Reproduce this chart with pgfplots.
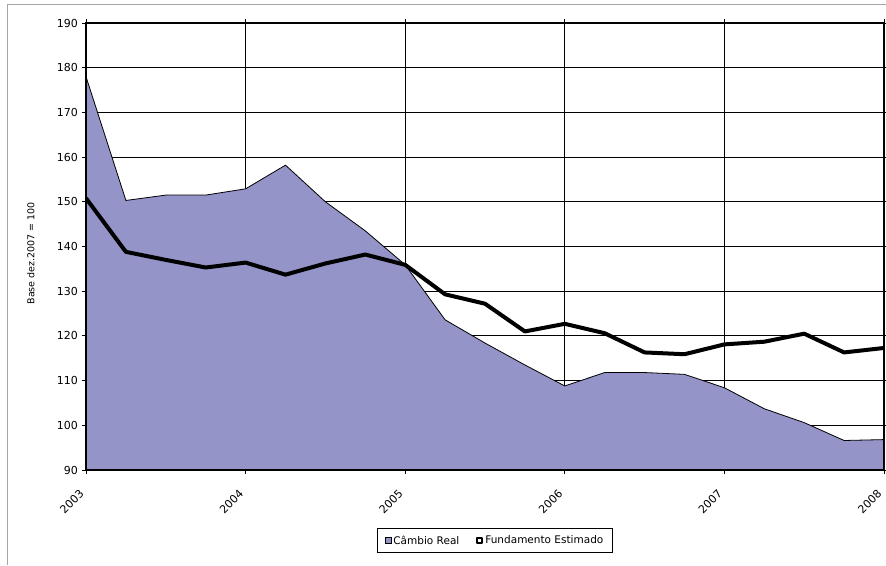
\documentclass[border=0pt]{standalone}
\usepackage{fontspec}
\setmainfont{DejaVu Sans}
\usepackage{pgfplots}
\pgfplotsset{compat=1.18}
\definecolor{areac}{RGB}{148,148,200}
\begin{document}
\begin{tikzpicture}[x=1pt,y=1pt]
\useasboundingbox (0,0) rectangle (886,565);
\draw[gray!70, line width=1pt] (7,0) -- (7,560) -- (886,560);
\begin{axis}[
 at={(86pt,95pt)}, anchor=south west,
 scale only axis, width=798pt, height=447pt,
 xmin=2003, xmax=2008, ymin=90, ymax=190,
 xtick={2003,...,2008}, ytick={90,100,...,190},
 grid=major, major grid style={black, line width=0.9pt},
 axis line style={black, line width=2.5pt},
 tick align=outside, major tick length=4pt, tick style={black, line width=0.8pt},
 x tick label style={yshift=-17pt, xshift=-3.5pt, rotate=45, anchor=east, inner sep=1pt, font=\fontsize{11}{12}\selectfont},
 y tick label style={font=\fontsize{11}{12}\selectfont, inner sep=4pt},
 /pgf/number format/assume math mode=true,
 /pgf/number format/1000 sep={},
 ylabel={Base dez.2007 = 100},
 ylabel style={font=\fontsize{9.5}{10}\selectfont, at={(axis description cs:-0.069,0.485)}, anchor=center},
 legend style={at={(0.5125,-0.158)}, anchor=center, legend columns=2, draw=black,
   font=\fontsize{10.5}{12}\selectfont, inner xsep=7pt, inner ysep=5pt,
   /tikz/every even column/.append style={column sep=15pt}},
 legend cell align=left,
]
\addplot[fill=areac, draw=black, line width=0.8pt,
  legend image code/.code={\draw[fill=areac,draw=black,line width=0.8pt] (0pt,-3pt) rectangle (6pt,3pt);}]
 coordinates {
 (2003.00,178.0) (2003.25,150.3) (2003.50,151.5) (2003.75,151.5)
 (2004.00,152.9) (2004.25,158.2) (2004.50,150.0) (2004.75,143.5)
 (2005.00,135.9) (2005.25,123.6) (2005.50,118.4) (2005.75,113.5)
 (2006.00,108.8) (2006.25,111.8) (2006.50,111.8) (2006.75,111.4)
 (2007.00,108.4) (2007.25,103.7) (2007.50,100.6) (2007.75,96.6)
 (2008.00,96.8)
 } \closedcycle;
\addlegendentry{Câmbio Real}
\addplot[black, line width=4pt, line join=round,
  legend image code/.code={\draw[fill=white,draw=black,line width=2pt] (0pt,-2.5pt) rectangle (5pt,2.5pt);}]
 coordinates {
 (2003.00,150.8) (2003.25,138.8) (2003.50,137.0) (2003.75,135.3)
 (2004.00,136.4) (2004.25,133.7) (2004.50,136.2) (2004.75,138.2)
 (2005.00,135.9) (2005.25,129.3) (2005.50,127.2) (2005.75,121.0)
 (2006.00,122.7) (2006.25,120.6) (2006.50,116.3) (2006.75,115.9)
 (2007.00,118.1) (2007.25,118.7) (2007.50,120.5) (2007.75,116.3)
 (2008.00,117.3)
 };
\addlegendentry{Fundamento Estimado}
\draw[black, line width=2.8pt] (rel axis cs:0,0) rectangle (rel axis cs:1,1);
\end{axis}
\end{tikzpicture}
\end{document}
